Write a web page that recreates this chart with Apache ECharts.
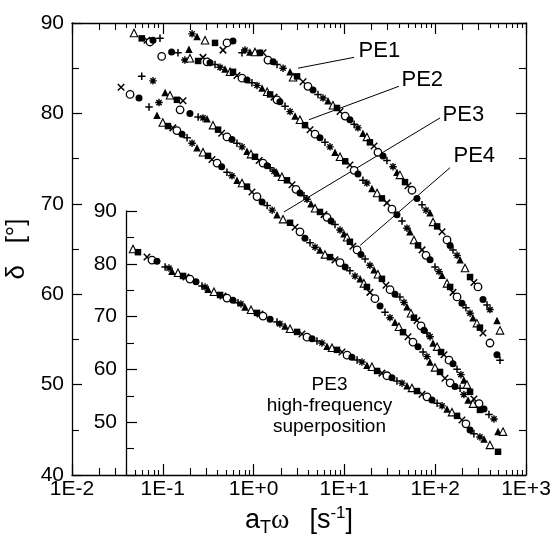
<!DOCTYPE html>
<html><head><meta charset="utf-8">
<script src="https://cdn.jsdelivr.net/npm/echarts@6/dist/echarts.min.js"></script>
<style>html,body{margin:0;padding:0;background:#fff}#c{width:554px;height:543px}</style>
</head><body><div id="c"></div>
<script>
// ---- tick labels ----
const xTickLabels = ['1E-2', '1E-1', '1E+0', '1E+1', '1E+2', '1E+3'];
const xMinorLong = [0.02, 0.03, 0.2, 0.3, 2, 3, 20, 30, 200, 300];
const xMinorShort = [0.04,0.05,0.06,0.07,0.08,0.09, 0.4,0.5,0.6,0.7,0.8,0.9, 4,5,6,7,8,9, 40,50,60,70,80,90, 400,500,600,700,800,900];

// ---- data: [aT*omega (s^-1), delta (deg)] ----
const pe1 = [[0.0482,88.9],[0.0586,88.3],[0.067,88.1],[0.0723,87.9],[0.078,88.1],[0.0931,88.3],[0.210,88.8],[0.238,88.5],[0.292,88.1],[0.376,87.8],[0.460,87.0],[0.509,87.8],[0.593,88.0],[0.745,86.7],[0.804,87.0],[0.912,86.8],[1.035,86.8],[1.175,86.7],[1.27,86.7],[1.44,85.9],[1.64,85.7],[1.81,85.4],[2.11,85.0],[2.52,84.6],[2.72,84.0],[3.01,84.1],[3.50,83.5],[3.97,83.0],[4.51,82.6],[5.12,82.1],[5.81,81.7],[6.60,81.4],[7.48,80.9],[8.28,80.6],[8.95,80.2],[10.2,79.7],[11.5,79.3],[12.8,78.8],[14.1,78.4],[16.0,77.8],[17.7,77.4],[19.1,76.8],[21.2,76.4],[23.4,75.7],[26.6,75.3],[29.4,74.8],[34.3,74.1],[37.9,73.5],[40.9,73.2],[46.5,72.4],[50.2,72.0],[55.5,71.5],[63.0,70.6],[71.6,69.9],[79.2,69.3],[87.7,69.0],[94.6,68.0],[105,67.5],[119,66.9],[135,66.0],[146,65.4],[157,64.9],[174,64.3],[188,63.8],[213,62.9],[242,61.9],[267,61.3],[296,60.8],[336,59.4],[372,58.8],[401,58.3],[479,57.1],[517,56.0]];
const pe2 = [[0.0972,86.3],[0.125,86.8],[0.147,86.7],[0.175,85.9],[0.194,87.1],[0.199,86.1],[0.245,85.8],[0.277,86.2],[0.307,85.7],[0.331,85.6],[0.376,85.4],[0.427,85.1],[0.484,84.9],[0.550,84.6],[0.593,84.6],[0.656,84.2],[0.745,83.9],[0.846,83.7],[0.959,83.4],[1.09,83.1],[1.24,82.8],[1.41,82.4],[1.52,82.1],[1.68,81.8],[1.81,81.5],[1.95,81.3],[2.22,80.8],[2.52,80.2],[2.86,79.7],[3.24,79.3],[3.68,78.7],[4.18,78.2],[4.75,77.7],[5.38,77.3],[6.11,76.8],[6.94,76.3],[7.88,75.7],[8.95,75.2],[10.2,74.7],[11.5,74.3],[12.8,73.7],[14.1,73.3],[16.0,72.6],[17.7,72.3],[20.1,71.7],[22.9,71.2],[25.9,70.6],[29.4,70.1],[33.4,69.4],[37.9,68.8],[43.1,68.1],[48.9,67.3],[52.7,66.9],[58.4,66.0],[64.7,65.4],[71.6,64.9],[79.2,64.3],[87.7,63.8],[99.5,63.0],[110,62.5],[119,62.1],[135,61.2],[146,60.8],[157,60.2],[174,59.7],[197,59.0],[218,58.5],[242,57.9],[261,57.4],[288,56.8],[311,56.3],[336,55.7],[401,54.6],[479,53.3],[517,52.7]];
const pe4 = [[0.0586,84.1],[0.078,83.6],[0.106,82.3],[0.120,82.0],[0.143,81.5],[0.167,81.4],[0.155,80.4],[0.199,80.0],[0.245,79.6],[0.277,79.5],[0.307,79.4],[0.357,78.7],[0.406,78.2],[0.445,77.8],[0.509,77.4],[0.578,77.1],[0.656,76.7],[0.745,76.3],[0.846,75.8],[0.936,75.5],[1.035,75.2],[1.15,74.8],[1.27,74.5],[1.41,74.2],[1.52,74.0],[1.68,73.6],[1.81,73.4],[2.05,73.0],[2.33,72.6],[2.65,72.1],[2.93,71.6],[3.24,71.2],[3.59,70.9],[3.87,70.5],[4.29,70.0],[4.75,69.5],[5.38,69.1],[5.96,68.8],[6.43,68.5],[7.12,68.1],[7.88,67.7],[8.95,67.1],[9.90,66.7],[10.7,66.3],[11.5,65.8],[12.4,65.3],[13.8,64.9],[15.2,64.4],[16.9,63.9],[19.1,63.2],[21.2,62.7],[23.4,62.2],[25.9,61.7],[28.7,61.0],[31.8,60.5],[36.1,60.0],[40.9,59.7],[45.3,59.1],[48.9,58.6],[54.1,57.9],[58.4,57.4],[63.0,57.1],[69.8,56.5],[75.3,56.0],[81.2,55.7],[87.7,55.3],[94.6,54.6],[105,54.2],[116,53.6],[125,53.3],[142,52.7],[157,52.3],[174,51.7],[192,51.1],[207,50.5],[224,50.0],[242,49.2],[267,48.4],[304,47.9],[345,47.3],[391,46.7],[444,46.2],[492,44.8],[558,44.8]];
const pe3 = [[0.0347,82.9],[0.0436,82.1],[0.0547,81.7],[0.0705,80.7],[0.0908,81.2],[0.0863,79.8],[0.100,79.0],[0.114,78.6],[0.129,78.4],[0.143,78.1],[0.163,77.7],[0.185,77.3],[0.210,76.7],[0.238,76.2],[0.277,75.7],[0.315,75.3],[0.348,74.9],[0.396,74.5],[0.445,74.1],[0.509,73.5],[0.578,73.1],[0.656,72.6],[0.745,72.3],[0.846,71.9],[0.959,71.3],[1.09,70.8],[1.24,70.2],[1.41,69.8],[1.60,69.3],[1.81,68.8],[2.11,68.3],[2.52,67.9],[2.86,67.4],[3.24,66.9],[3.68,66.2],[4.18,65.7],[4.75,65.2],[5.38,64.9],[6.11,64.4],[6.94,64.1],[7.88,63.8],[8.95,63.5],[10.2,63.0],[11.5,62.6],[13.1,62.0],[14.9,61.7],[16.4,61.2],[17.7,60.8],[19.1,60.2],[21.7,59.5],[24.7,58.7],[28.0,58.0],[31.8,57.4],[36.1,56.9],[39.9,56.4],[44.2,55.8],[50.2,55.3],[56.9,54.7],[64.7,54.2],[73.4,53.6],[81.2,53.1],[87.7,52.5],[99.5,51.9],[113,51.4],[128,50.7],[146,50.2],[165,49.8],[188,49.6],[207,48.9],[230,48.3],[261,47.9],[311,47.2]];
// inset: PE3 high-frequency superposition (inset axis)
const pe3hf = [[0.047,82.8],[0.0533,82.2],[0.067,81.3],[0.076,80.7],[0.0863,80.5],[0.106,79.4],[0.117,79.2],[0.126,78.6],[0.147,78.3],[0.167,77.7],[0.180,77.5],[0.199,77.1],[0.232,76.6],[0.270,75.8],[0.292,75.6],[0.315,75.2],[0.366,74.7],[0.427,74.1],[0.460,73.9],[0.509,73.5],[0.593,73.1],[0.673,72.6],[0.726,72.4],[0.804,71.8],[0.936,71.3],[1.09,70.7],[1.175,70.5],[1.27,70.1],[1.52,69.5],[1.81,69.0],[1.95,68.6],[2.22,68.2],[2.52,67.7],[3.01,67.1],[3.41,66.7],[3.87,66.1],[4.40,65.8],[4.99,65.4],[5.66,65.0],[6.43,64.4],[7.30,64.1],[8.28,63.7],[9.41,63.3],[10.7,62.7],[12.1,62.3],[13.8,61.8],[15.6,61.4],[17.7,60.8],[20.1,60.5],[22.9,59.7],[25.9,59.3],[29.4,58.8],[33.4,58.4],[37.9,57.8],[43.1,57.4],[48.9,56.9],[55.5,56.5],[63.0,55.9],[71.6,55.3],[81.2,54.8],[92.2,54.2],[105,53.6],[119,53.1],[135,52.5],[153,51.9],[174,51.2],[197,50.4],[218,49.7],[242,48.5],[267,47.8],[311,47.2],[345,46.8],[401,45.7],[492,44.4]];

// ---- annotations (data coordinates) ----
const leaders = {
  PE1: [[3.08, 85.0], [12.8, 86.2]],
  PE2: [[4.07, 79.3], [39.9, 83.0]],
  PE3: [[2.16, 69.1], [113, 79.5]],
  PE4: [[14.9, 65.4], [146, 74.0]]
};
const labelAnchors = { PE1: [14.5, 86.8], PE2: [43.1, 83.7], PE3: [122, 79.8], PE4: [161, 75.2] };
const insetCaption = { pos: [6.94, 47.6], text: 'PE3\nhigh-frequency\nsuperposition' };

// ---- marker styles ----
const CROSS = 'path://M0,0L10,10M10,0L0,10';
const PLUS = 'path://M5,0L5,10M0,5L10,5';
const STAR = 'path://M5,0L5,10M0,5L10,5M1.5,1.5L8.5,8.5M8.5,1.5L1.5,8.5';
const MARKERS = [
  { symbol: 'triangle', size: 7.5, fill: '#fff', bw: 1.1 },
  { symbol: 'rect', size: 6.5, fill: '#000', bw: 0 },
  { symbol: CROSS, size: 6.5, fill: 'none', bw: 1.5 },
  { symbol: 'circle', size: 7.5, fill: '#fff', bw: 1.3 },
  { symbol: 'circle', size: 7, fill: '#000', bw: 0 },
  { symbol: PLUS, size: 7.5, fill: 'none', bw: 1.5 },
  { symbol: STAR, size: 7.5, fill: 'none', bw: 1.4 },
  { symbol: 'triangle', size: 7.5, fill: '#000', bw: 0 }
];
function items(points, shift) {
  return points.map((p, i) => {
    const m = MARKERS[(i + shift) % MARKERS.length];
    return { value: p, symbol: m.symbol, symbolSize: m.size,
      itemStyle: { color: m.fill, borderColor: '#000', borderWidth: m.bw, opacity: 1 } };
  });
}

const FONT = 'Liberation Sans, Arial, sans-serif';
const AXC = '#000';
function logLabel(v) { return xTickLabels[Math.round(Math.log10(v)) + 2]; }

const xBase = { type: 'log', logBase: 10, min: 0.01, max: 1000, gridIndex: 0, splitLine: { show: false } };
function minorAxis(pos, vals, len) {
  return Object.assign({}, xBase, { position: pos, axisLine: { show: false }, axisLabel: { show: false },
    axisTick: { show: true, inside: true, length: len, customValues: vals, lineStyle: { color: AXC, width: 1.1 } } });
}

const series = [];
[[pe1, 0], [pe2, 3], [pe4, 5], [pe3, 2]].forEach(([pts, sh]) => {
  series.push({ type: 'scatter', xAxisIndex: 0, yAxisIndex: 0, data: items(pts, sh), z: 3, animation: false, itemStyle: { opacity: 1 } });
});
series.push({ type: 'scatter', xAxisIndex: 6, yAxisIndex: 2, data: items(pe3hf, 0), z: 3, animation: false, itemStyle: { opacity: 1 } });
Object.keys(leaders).forEach(k => {
  series.push({ type: 'line', xAxisIndex: 0, yAxisIndex: 0, data: leaders[k], symbol: 'none',
    lineStyle: { color: '#000', width: 1 }, z: 2, animation: false, silent: true });
  series.push({ type: 'scatter', xAxisIndex: 0, yAxisIndex: 0, data: [labelAnchors[k]], symbolSize: 1,
    itemStyle: { color: 'rgba(0,0,0,0)', opacity: 1 }, silent: true, animation: false,
    label: { show: true, position: [0, 0], align: 'left', verticalAlign: 'middle', formatter: k,
      fontFamily: FONT, fontSize: 22, color: '#000', opacity: 1 } });
});
series.push({ type: 'scatter', xAxisIndex: 0, yAxisIndex: 0, data: [insetCaption.pos], symbolSize: 1,
  itemStyle: { color: 'rgba(0,0,0,0)', opacity: 1 }, silent: true, animation: false,
  label: { show: true, position: [0, 0], align: 'center', verticalAlign: 'middle', formatter: insetCaption.text,
    fontFamily: FONT, fontSize: 19, lineHeight: 21, color: '#000', opacity: 1 } });

const option = {
  backgroundColor: '#fff',
  animation: false,
  grid: [
    { left: 72, right: 28, top: 23, bottom: 68, outerBoundsMode: 'none' },
    { left: 72, right: 28, top: 211, bottom: 68, outerBoundsMode: 'none' }
  ],
  xAxis: [
    Object.assign({}, xBase, { position: 'bottom',
      axisLine: { show: true, lineStyle: { color: AXC, width: 1.3 } },
      axisTick: { show: true, inside: true, length: 11, lineStyle: { color: AXC, width: 1.2 } },
      axisLabel: { show: true, formatter: logLabel, margin: 4, color: '#000', fontFamily: FONT, fontSize: 21, showMinLabel: true, showMaxLabel: true },
      name: '{a|a}{t|T}{w|ω}{sp|}{a|[s}{s|-1}{a|]}', nameLocation: 'middle', nameGap: 29,
      nameTextStyle: { rich: {
        a: { fontFamily: FONT, fontSize: 27, lineHeight: 32, color: '#000' },
        t: { fontFamily: FONT, fontSize: 18, lineHeight: 18, verticalAlign: 'bottom', color: '#000' },
        w: { fontFamily: 'Liberation Serif, serif', fontSize: 28, lineHeight: 32, color: '#000' },
        sp: { width: 20 },
        s: { fontFamily: FONT, fontSize: 17, lineHeight: 17, verticalAlign: 'top', color: '#000' }
      } } }),
    Object.assign({}, xBase, { position: 'top',
      axisLine: { show: true, lineStyle: { color: AXC, width: 1.3 } },
      axisTick: { show: true, inside: true, length: 11, lineStyle: { color: AXC, width: 1.2 } },
      axisLabel: { show: false } }),
    minorAxis('bottom', xMinorLong, 7),
    minorAxis('bottom', xMinorShort, 5),
    minorAxis('top', xMinorLong, 7),
    minorAxis('top', xMinorShort, 5),
    { type: 'log', logBase: 10, min: 0.01, max: 1000, gridIndex: 1, show: false }
  ],
  yAxis: [
    { type: 'value', gridIndex: 0, min: 40, max: 90, interval: 10, position: 'left',
      axisLine: { show: true, lineStyle: { color: AXC, width: 1.3 } },
      axisTick: { show: true, inside: true, length: 10, lineStyle: { color: AXC, width: 1.2 } },
      minorTick: { show: true, splitNumber: 2, length: 7, lineStyle: { color: AXC, width: 1.1 } },
      splitLine: { show: false },
      axisLabel: { margin: 8, color: '#000', fontFamily: FONT, fontSize: 21 },
      name: 'δ   [°]', nameLocation: 'middle', nameGap: 42, nameRotate: 90,
      nameTextStyle: { fontFamily: FONT, fontSize: 26, color: '#000' } },
    { type: 'value', gridIndex: 0, min: 40, max: 90, interval: 10, position: 'right',
      axisLine: { show: true, lineStyle: { color: AXC, width: 1.3 } },
      axisTick: { show: true, inside: true, length: 10, lineStyle: { color: AXC, width: 1.2 } },
      minorTick: { show: true, splitNumber: 2, length: 7, lineStyle: { color: AXC, width: 1.1 } },
      splitLine: { show: false }, axisLabel: { show: false } },
    { type: 'value', gridIndex: 1, min: 40, max: 90, interval: 10, position: 'left', offset: -54,
      axisLine: { show: true, lineStyle: { color: AXC, width: 1.3 } },
      axisTick: { show: true, inside: true, length: 11, lineStyle: { color: AXC, width: 1.2 } },
      minorTick: { show: true, splitNumber: 2, length: 8, lineStyle: { color: AXC, width: 1.1 } },
      splitLine: { show: false },
      axisLabel: { margin: 9, color: '#000', fontFamily: FONT, fontSize: 21, showMinLabel: false } }
  ],
  series: series
};
const chart = echarts.init(document.getElementById('c'), null, { renderer: 'canvas' });
chart.setOption(option);
</script></body></html>
